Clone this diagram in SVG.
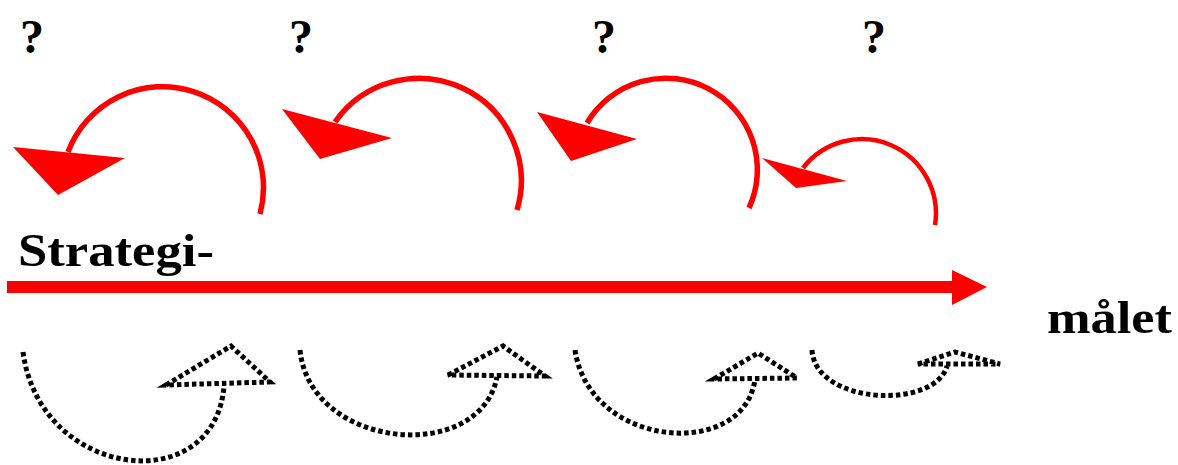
<svg xmlns="http://www.w3.org/2000/svg" width="1178" height="465" viewBox="0 0 1178 465">
<style>
.lbl{font-family:"Liberation Serif","Times New Roman",serif;font-weight:bold;fill:#000}
.q{font-size:48px;text-anchor:middle}
.big{font-size:47px}
.red{fill:none;stroke:#ff0000;stroke-width:5.5}
.redhead{fill:#ff0000;stroke:none}
.dot{fill:none;stroke:#000;stroke-width:5;stroke-dasharray:4.5 3}
</style>
<rect width="1178" height="465" fill="#fff"/>
<g id="questions">
<text class="lbl q" x="32" y="53">?</text>
<text class="lbl q" x="301" y="53">?</text>
<text class="lbl q" x="604" y="53">?</text>
<text class="lbl q" x="874" y="53">?</text>
</g>
<g id="labels">
<text id="strategi" class="lbl big" x="18" y="266" textLength="196" lengthAdjust="spacingAndGlyphs">Strategi-</text>
<text id="malet" class="lbl big" x="1047" y="333" textLength="125" lengthAdjust="spacingAndGlyphs">målet</text>
</g>
<g id="connectors">
<g id="main-arrow">
<rect x="7" y="281" width="946" height="12" fill="#ff0000"/>
<polygon class="redhead" points="952,270 987,287 952,305"/>
</g>
<g id="red-loops">
<path class="red" d="M 260 214 A 101 101 0 0 0 68 152"/>
<polygon class="redhead" points="13,147 125,158 58,195"/>
<path class="red" d="M 517 210 A 102.4 102.4 0 0 0 335 122"/>
<polygon class="redhead" points="282,109 392,138 320,159"/>
<path class="red" d="M 749 208 A 91.6 91.6 0 0 0 587 123"/>
<polygon class="redhead" points="537,112 637,139 571,161"/>
<path class="red" style="stroke-width:4.5" d="M 935 225 A 74.2 74.2 0 0 0 803 168"/>
<polygon class="redhead" points="762,158 847,181 796,188"/>
</g>
<g id="dotted-loops">
<path class="dot" d="M 23 352 C 40 480, 215 500, 224 386"/>
<polygon class="dot" points="166,385 231,346 270,382"/>
<path class="dot" d="M 300 350 C 310 450, 480 465, 497 377"/>
<polygon class="dot" points="448,375 503,346 545,376"/>
<path class="dot" d="M 575 350 C 590 450, 745 460, 755 379"/>
<polygon class="dot" points="714,379 758,353 797,378"/>
<path class="dot" d="M 812 350 C 815 405, 935 410, 947 366"/>
<polygon class="dot" points="918,364 955,352 1000,364"/>
</g>
</g>
</svg>
